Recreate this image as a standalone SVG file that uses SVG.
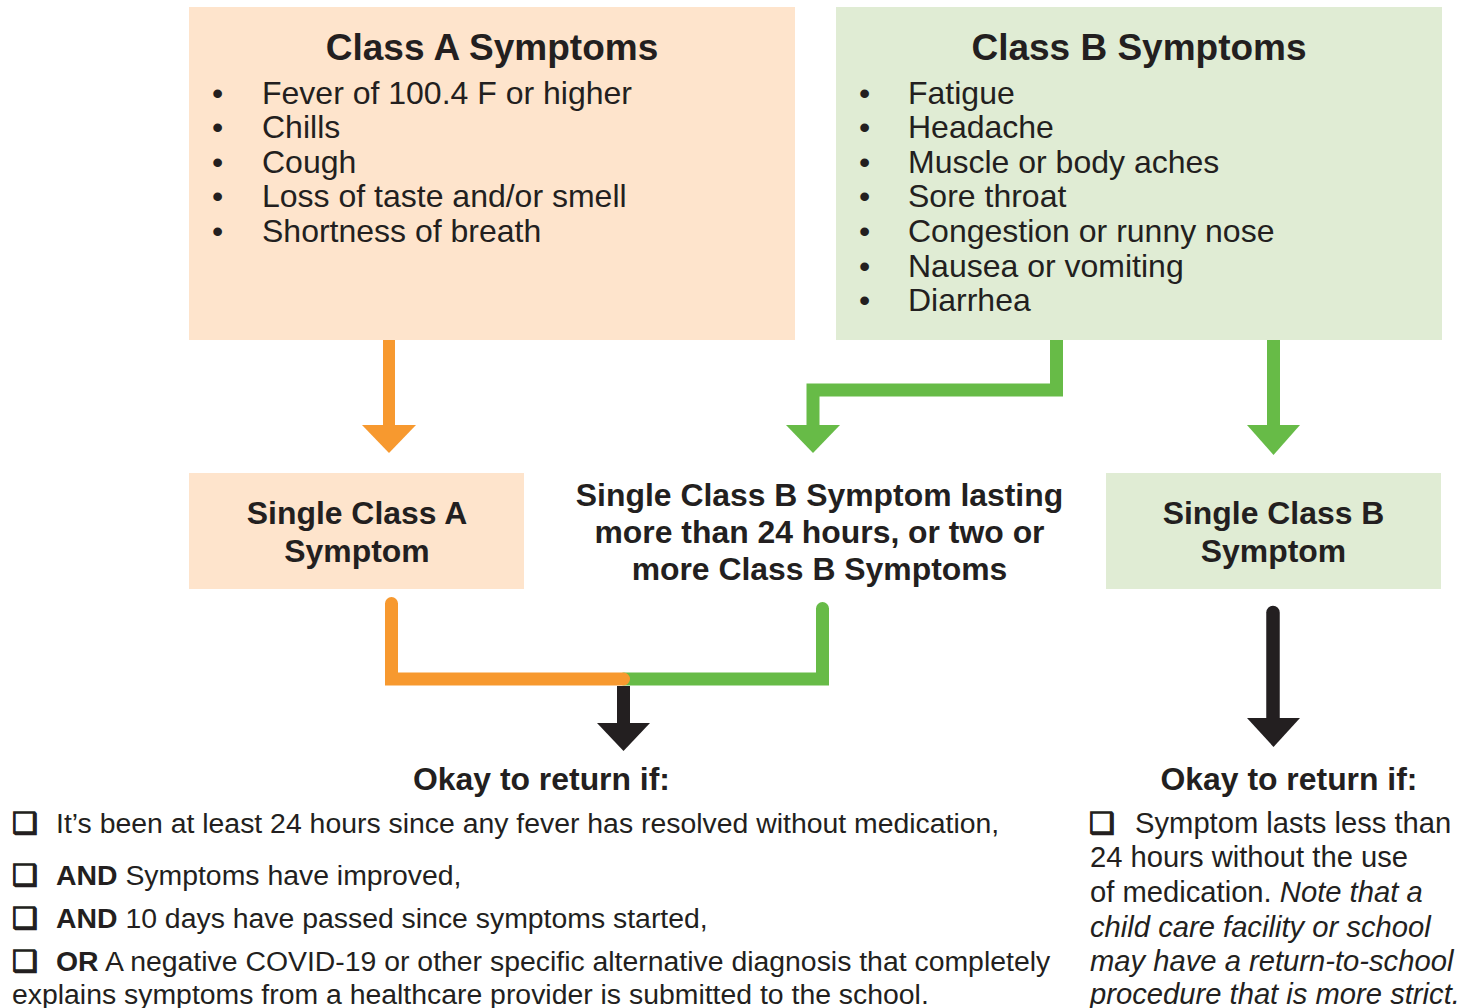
<svg xmlns="http://www.w3.org/2000/svg" width="1462" height="1008" viewBox="0 0 1462 1008">
<style>
text{font-family:"Liberation Sans",Arial,sans-serif;fill:#231F20}
.t{font-size:37px;font-weight:bold;text-anchor:middle}
.li{font-size:32px}
.h{font-size:31.9px;font-weight:bold;text-anchor:middle}
.c{font-size:28.4px}
.cr{font-size:29.2px}
.b{font-weight:bold}
.i{font-style:italic}
.cb{font-family:"DejaVu Sans",sans-serif;font-size:29px;font-weight:bold;stroke:#231F20;stroke-width:1.4}
.peach{fill:#FEE4CC}
.mint{fill:#E0ECD4}
.lo{fill:none;stroke:#F7992F;stroke-width:13}
.lg{fill:none;stroke:#67BB47;stroke-width:13}
.lk{fill:none;stroke:#231F20;stroke-width:13.5}
.ho{fill:#F7992F}.hg{fill:#67BB47}.hk{fill:#231F20}
</style>
<rect width="1462" height="1008" fill="#fff"/>
<g id="classA">
<rect class="peach" x="189" y="7" width="606" height="333"/>
<text class="t" x="492" y="60">Class A Symptoms</text>
<g class="li">
<text x="212" y="103.5">•</text><text x="262" y="103.5">Fever of 100.4 F or higher</text>
<text x="212" y="138">•</text><text x="262" y="138">Chills</text>
<text x="212" y="172.5">•</text><text x="262" y="172.5">Cough</text>
<text x="212" y="207">•</text><text x="262" y="207">Loss of taste and/or smell</text>
<text x="212" y="242">•</text><text x="262" y="242">Shortness of breath</text>
</g>
</g>
<g id="classB">
<rect class="mint" x="836" y="7" width="606" height="333"/>
<text class="t" x="1139" y="60">Class B Symptoms</text>
<g class="li">
<text x="859" y="103.5">•</text><text x="908" y="103.5">Fatigue</text>
<text x="859" y="138">•</text><text x="908" y="138">Headache</text>
<text x="859" y="172.5">•</text><text x="908" y="172.5">Muscle or body aches</text>
<text x="859" y="207">•</text><text x="908" y="207">Sore throat</text>
<text x="859" y="242">•</text><text x="908" y="242">Congestion or runny nose</text>
<text x="859" y="276.5">•</text><text x="908" y="276.5">Nausea or vomiting</text>
<text x="859" y="311">•</text><text x="908" y="311">Diarrhea</text>
</g>
</g>
<g id="singleA">
<rect class="peach" x="189" y="473" width="335" height="116"/>
<text class="h" x="357" y="524">Single Class A</text>
<text class="h" x="357" y="562">Symptom</text>
</g>
<g id="multiB">
<text class="h" x="819.5" y="506">Single Class B Symptom lasting</text>
<text class="h" x="819.5" y="543">more than 24 hours, or two or</text>
<text class="h" x="819.5" y="580">more Class B Symptoms</text>
</g>
<g id="singleB">
<rect class="mint" x="1106" y="473" width="335" height="116"/>
<text class="h" x="1273.5" y="524">Single Class B</text>
<text class="h" x="1273.5" y="562">Symptom</text>
</g>
<g id="returnLeft">
<text class="h" x="541.5" y="790">Okay to return if:</text>
<g class="c">
<text class="cb" x="12" y="833">❑</text>
<text x="56" y="833">It’s been at least 24 hours since any fever has resolved without medication,</text>
<text class="cb" x="12" y="885">❑</text>
<text x="56" y="885"><tspan class="b">AND</tspan> Symptoms have improved,</text>
<text class="cb" x="12" y="928">❑</text>
<text x="56" y="928"><tspan class="b">AND</tspan> 10 days have passed since symptoms started,</text>
<text class="cb" x="12" y="971">❑</text>
<text x="56" y="971"><tspan class="b">OR</tspan> A negative COVID-19 or other specific alternative diagnosis that completely</text>
<text x="12" y="1004">explains symptoms from a healthcare provider is submitted to the school.</text>
</g>
</g>
<g id="returnRight">
<text class="h" x="1289" y="790">Okay to return if:</text>
<g class="cr">
<text class="cb" x="1089" y="833">❑</text>
<text x="1135" y="833">Symptom lasts less than</text>
<text x="1090" y="867">24 hours without the use</text>
<text x="1090" y="902">of medication. <tspan class="i">Note that a</tspan></text>
<text class="i" x="1090" y="937">child care facility or school</text>
<text class="i" x="1090" y="971">may have a return-to-school</text>
<text class="i" x="1090" y="1004">procedure that is more strict.</text>
</g>
</g>
<g id="connectors">
<path class="lo" d="M389,340V426" style="stroke-width:12"/>
<polygon class="ho" points="362,425 416,425 389,453"/>
<path class="lg" d="M1056.5,340V390H813V426"/>
<polygon class="hg" points="786,425 840,425 813,453"/>
<path class="lg" d="M1273.5,340V426"/>
<polygon class="hg" points="1247,425 1300,425 1273.5,455"/>
<path class="lg" d="M822.5,608.5V679H624" stroke-linecap="round"/>
<path class="lo" d="M391.5,603.5V679H623.5" stroke-linecap="round"/>
<path class="lk" d="M623.5,686V724" style="stroke-width:13"/>
<polygon class="hk" points="597,723 650,723 623.5,751"/>
<path class="lk" d="M1273,612.5V720" stroke-linecap="round"/>
<polygon class="hk" points="1247,718 1300,718 1273.5,747"/>
</g>
</svg>
